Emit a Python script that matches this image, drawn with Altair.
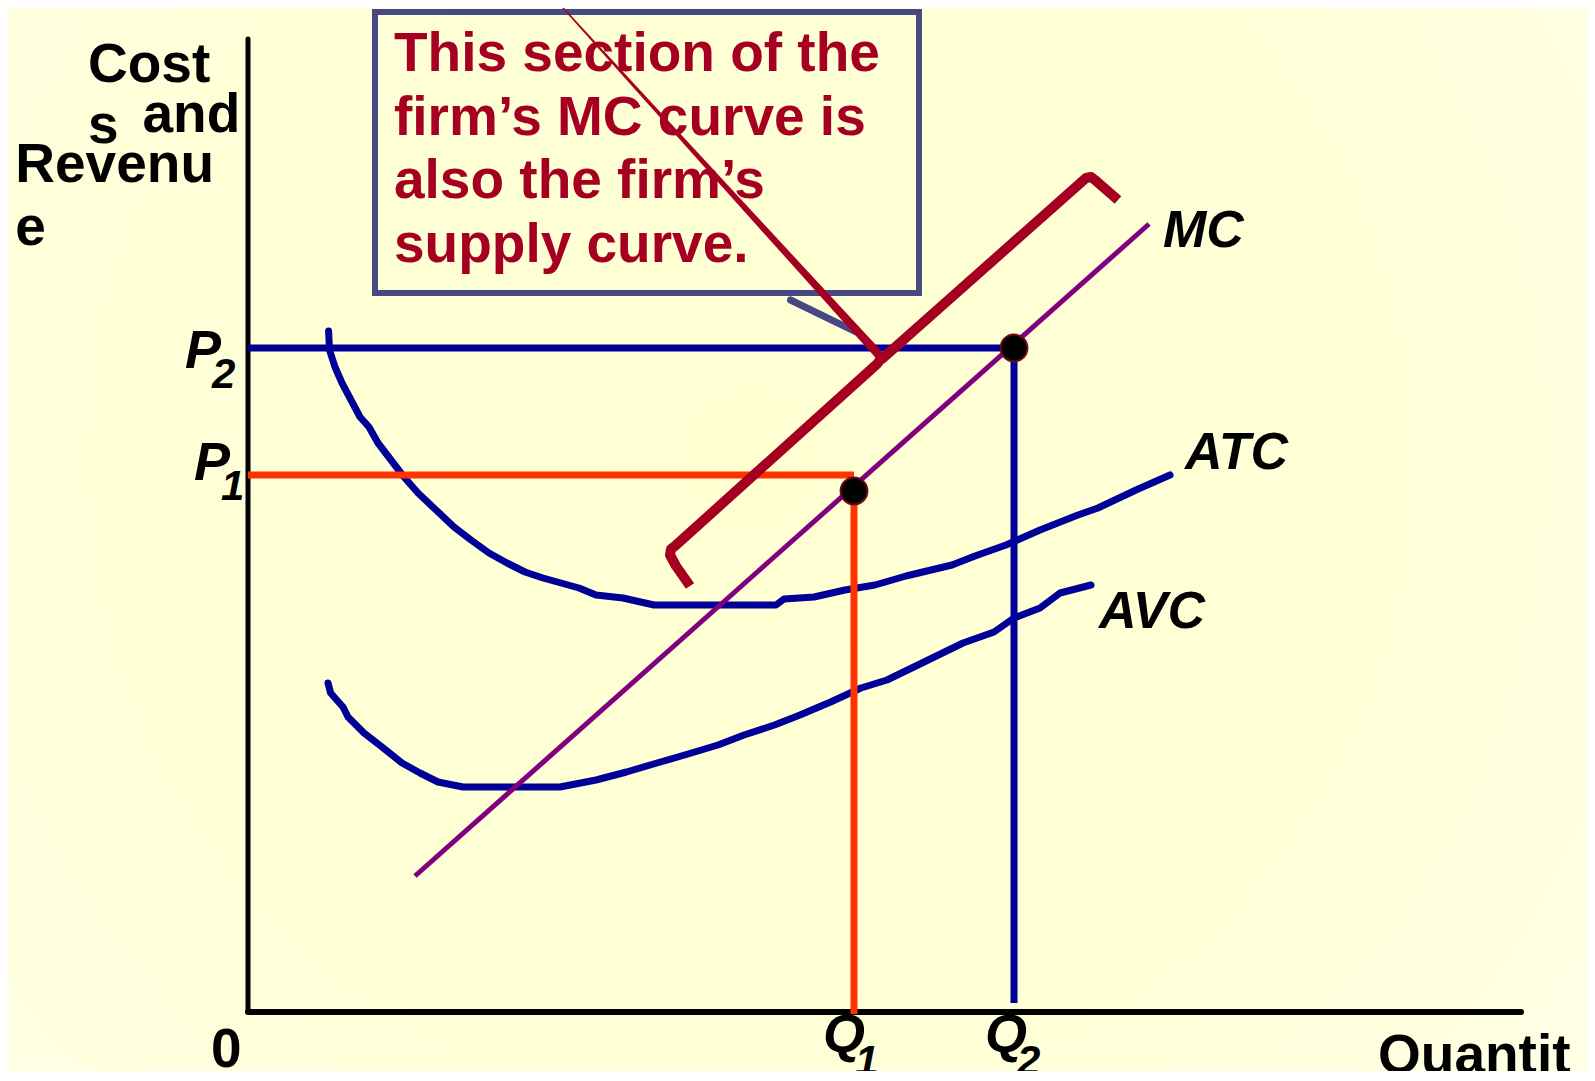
import altair as alt
import pandas as pd

# ---------------- data (quantity / cost units) ----------------
atc_q = [8.06, 8.15, 8.7, 9.4, 10.3, 11.2, 12.1, 13.0, 14.3, 15.6, 17.0, 18.8, 20.6, 22.3,
         24.1, 25.9, 27.7, 29.5, 31.3, 33.1, 34.8, 37.5, 40.6, 52.8, 53.6, 56.6, 59.7, 62.7,
         65.8, 70.4, 72.7, 75.8, 79.2, 83.0, 85.0, 88.8, 92.2]
atc_c = [68.1, 66.2, 64.5, 62.9, 61.2, 59.5, 58.5, 56.9, 55.2, 53.5, 51.9, 50.2, 48.5, 47.2,
         45.9, 44.9, 44.0, 43.4, 42.9, 42.4, 41.7, 41.4, 40.7, 40.7, 41.3, 41.5, 42.2, 42.7,
         43.6, 44.7, 45.6, 46.7, 48.2, 49.7, 50.4, 52.2, 53.7]

avc_q = [8.0, 8.26, 9.5, 10.0, 11.6, 13.4, 15.4, 17.2, 19.0, 21.5, 31.2, 34.8, 37.85, 40.9,
         44.0, 47.0, 49.6, 52.65, 55.2, 58.26, 61.3, 63.9, 67.4, 71.5, 74.6, 76.6, 79.2, 81.2, 84.3]
avc_c = [32.9, 31.9, 30.5, 29.5, 27.9, 26.5, 24.9, 23.9, 23.0, 22.5, 22.5, 23.2, 24.0, 24.9,
         25.8, 26.7, 27.7, 28.7, 29.7, 31.0, 32.4, 33.2, 34.9, 36.9, 38.0, 39.4, 40.4, 41.9, 42.7]

mc_q = [16.7, 90.1]
mc_c = [13.6, 78.8]

P1, P2 = 53.7, 66.4
Q1, Q2 = 60.6, 76.6
dot_q = [Q1, Q2]
dot_c = [52.1, 66.4]

bracket_q = [44.2, 42.8, 42.2, 42.3, 42.7, 62.9, 63.2, 63.5, 83.8, 84.3, 84.7, 87.0]
bracket_c = [42.6, 44.6, 45.7, 46.3, 46.6, 64.8, 65.2, 65.4, 83.4, 83.5, 83.2, 81.2]

leader_q = [29.6, 46.7, 63.2]
leader_c = [102.5, 83.7, 65.6]
leader_w = [1, 5, 9]

box_q = [12.7, 67.1]
box_c = [71.9, 100.0]
pointer_q = [54.25, 60.75]
pointer_c = [71.2, 68.03]

axis_len_q = 127.3
axis_len_c = 97.3

box_lines = ["This section of the", "firm\u2019s MC curve is", "also the firm\u2019s", "supply curve."]
box_line_c = [94.13, 87.7, 81.4, 75.03]
box_line_q = 14.6

ylab_text = ["Cost", "s", "and", "Revenu", "e"]
ylab_q = [-16.0, -16.0, -10.55, -23.27, -23.27]
ylab_c = [93.03, 86.9, 88.0, 83.05, 76.7]

curve_lab_text = ["MC", "ATC", "AVC"]
curve_lab_q = [91.5, 93.7, 85.1]
curve_lab_c = [76.5, 54.3, 38.4]

big_it_text = ["P", "P", "Q", "Q"]
big_it_q = [-6.3, -5.4, 57.5, 73.7]
big_it_c = [64.4, 53.2, -4.0, -4.0]
sub_text = ["2", "1", "1", "2"]
sub_q = [-3.6, -2.7, 60.7, 76.9]
sub_c = [62.4, 51.2, -6.3, -6.3]

plain_text = ["0", "Quantit"]
plain_q = [-3.7, 113.0]
plain_c = [-5.5, -6.1]

# ---------------- geometry of the canvas ----------------
W, H = 1579, 1063
X0, Y1 = -24.0, 100.4
XS = alt.Scale(domain=[X0, X0 + W / 10], nice=False, zero=False)
YS = alt.Scale(domain=[Y1 - H / 10, Y1], nice=False, zero=False)

FONT = "Liberation Sans"
BLUE = "#000099"
ORANGE = "#FF3300"
PURPLE = "#800080"
DARKRED = "#A50021"
SLATE = "#484884"


def xenc(f="q"):
    return alt.X(f"{f}:Q", scale=XS, axis=None)


def yenc(f="c"):
    return alt.Y(f"{f}:Q", scale=YS, axis=None)


def path_layer(qs, cs, **mark):
    df = pd.DataFrame({"q": qs, "c": cs, "i": list(range(len(qs)))})
    return alt.Chart(df).mark_line(**mark).encode(
        x=xenc(), y=yenc(), order=alt.Order("i:Q"))


def seg_layer(rows, **mark):
    df = pd.DataFrame(rows, columns=["q", "c", "q2", "c2"])
    return alt.Chart(df).mark_rule(**mark).encode(
        x=xenc(), y=yenc(), x2="q2:Q", y2="c2:Q")


def text_layer(texts, qs, cs, **mark):
    df = pd.DataFrame({"t": texts, "q": qs, "c": cs})
    return alt.Chart(df).mark_text(align="left", baseline="alphabetic", font=FONT, **mark).encode(
        x=xenc(), y=yenc(), text="t:N")


one = pd.DataFrame({"a": [0]})

background = alt.Chart(one).mark_rect(
    fill=alt.RadialGradient(
        gradient="radial",
        stops=[alt.GradientStop(offset=0, color="#FFFFD2"),
               alt.GradientStop(offset=0.55, color="#FFFFD8"),
               alt.GradientStop(offset=1, color="#FFFFEA")],
        x1=0.47, y1=0.45, x2=0.47, y2=0.45, r1=0, r2=0.75),
).encode(x=alt.value(0), x2=alt.value(W), y=alt.value(0), y2=alt.value(H))

box = alt.Chart(pd.DataFrame({"q": [box_q[0]], "q2": [box_q[1]], "c": [box_c[0]], "c2": [box_c[1]]})).mark_rect(
    fillOpacity=0, stroke=SLATE, strokeWidth=6).encode(x=xenc(), x2="q2:Q", y=yenc(), y2="c2:Q")

box_text = text_layer(box_lines, [box_line_q] * len(box_lines), box_line_c,
                      fontSize=55, fontWeight="bold", color=DARKRED)

axes = alt.layer(
    seg_layer([[0, 0, 0, axis_len_c]], color="black", strokeWidth=5, strokeCap="round"),
    seg_layer([[0, 0, axis_len_q, 0]], color="black", strokeWidth=6, strokeCap="round"),
)

atc = path_layer(atc_q, atc_c, color=BLUE, strokeWidth=7, strokeCap="round", strokeJoin="round")
avc = path_layer(avc_q, avc_c, color=BLUE, strokeWidth=7, strokeCap="round", strokeJoin="round")

p_lines = alt.layer(
    seg_layer([[0, P2, Q2, P2], [Q2, P2, Q2, 0.9]], color=BLUE, strokeWidth=7),
    seg_layer([[0, P1, Q1, P1], [Q1, dot_c[0], Q1, -0.2]], color=ORANGE, strokeWidth=7),
)

mc = path_layer(mc_q, mc_c, color=PURPLE, strokeWidth=5)

bracket = path_layer(bracket_q, bracket_c, color=DARKRED, strokeWidth=10, strokeJoin="round")

leader = alt.Chart(pd.DataFrame({"q": leader_q, "c": leader_c, "w": leader_w, "i": [0, 1, 2]})).mark_trail(
    color=DARKRED).encode(x=xenc(), y=yenc(), size=alt.Size("w:Q", scale=None, legend=None),
                          order=alt.Order("i:Q"))

pointer = path_layer(pointer_q, pointer_c, color=SLATE, strokeWidth=7, strokeCap="round")

dots = alt.Chart(pd.DataFrame({"q": dot_q, "c": dot_c})).mark_point(
    shape="circle", filled=True, fill="black", stroke="#6B0A1E", strokeWidth=2, size=720, opacity=1
).encode(x=xenc(), y=yenc())

labels = alt.layer(
    text_layer(ylab_text, ylab_q, ylab_c, fontSize=55, fontWeight="bold", color="black"),
    text_layer(curve_lab_text, curve_lab_q, curve_lab_c, fontSize=52, fontWeight="bold",
               fontStyle="italic", color="black"),
    text_layer(big_it_text, big_it_q, big_it_c, fontSize=54, fontWeight="bold",
               fontStyle="italic", color="black"),
    text_layer(sub_text, sub_q, sub_c, fontSize=42, fontWeight="bold",
               fontStyle="italic", color="black"),
    text_layer(plain_text, plain_q, plain_c, fontSize=55, fontWeight="bold", color="black"),
)

chart = alt.layer(
    background, box, box_text, axes, atc, avc, p_lines, mc, bracket, pointer, leader, dots, labels
).properties(
    width=W, height=H, padding=0, autosize=alt.AutoSizeParams(type="none"),
    background="#FFFFE4",
).configure_view(stroke=None)

chart.save("out.html", embed_options={"renderer": "svg", "actions": False})
